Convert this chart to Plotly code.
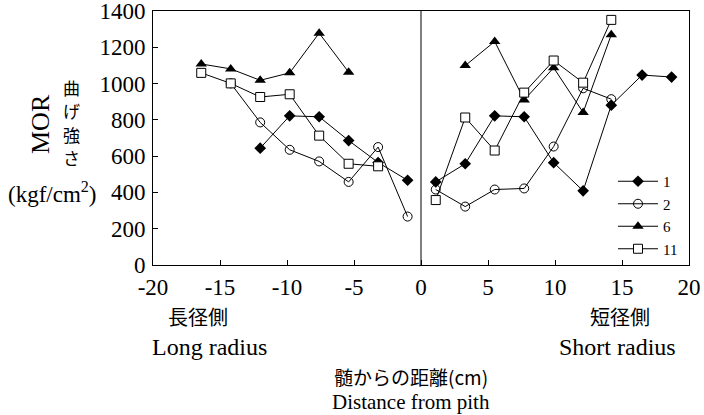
import plotly.graph_objects as go

# Distance from pith (cm): negative = long radius side, positive = short radius side
x1 = [-12.0, -9.8, -7.6, -5.4, -3.2, -1.0, 1.1, 3.3, 5.5, 7.7, 9.9, 12.1, 14.2, 16.5, 18.7]
y1 = [644, 822, 817, 686, 565, 467, 458, 558, 822, 817, 564, 409, 881, 1047, 1036]

x2 = [-14.2, -12.0, -9.8, -7.6, -5.4, -3.2, -1.0, 1.1, 3.3, 5.5, 7.7, 9.9, 12.1, 14.2]
y2 = [1001, 786, 635, 571, 458, 650, 267, 416, 322, 416, 422, 653, 974, 914]

x6 = [-16.4, -14.2, -12.0, -9.8, -7.6, -5.4, 3.3, 5.5, 7.7, 9.9, 12.1, 14.2]
y6 = [1108, 1081, 1018, 1059, 1278, 1063, 1099, 1232, 910, 1087, 841, 1269]

x11 = [-16.4, -14.2, -12.0, -9.8, -7.6, -5.4, -3.2, 1.1, 3.3, 5.5, 7.7, 9.9, 12.1, 14.2]
y11 = [1059, 1001, 926, 941, 713, 558, 544, 358, 813, 631, 950, 1127, 1005, 1351]

x_ticks = [-20, -15, -10, -5, 0, 5, 10, 15, 20]
y_ticks = [0, 200, 400, 600, 800, 1000, 1200, 1400]

SERIF = "Liberation Serif"
JP = "Noto Sans CJK JP"


def split(xs, ys):
    # break the line at the pith (x=0)
    ox, oy = [], []
    prev = None
    for a, b in zip(xs, ys):
        if prev is not None and prev < 0 < a:
            ox.append(None)
            oy.append(None)
        ox.append(a)
        oy.append(b)
        prev = a
    return ox, oy


fig = go.Figure()
series = [
    ("1", x1, y1, dict(symbol="diamond", size=9, color="black")),
    ("2", x2, y2, dict(symbol="circle-open", size=9, color="black", line=dict(width=1, color="black"))),
    ("6", x6, y6, dict(symbol="triangle-up", size=10, color="black")),
    ("11", x11, y11, dict(symbol="square", size=9, color="white", line=dict(width=1, color="black"))),
]
for name, xs, ys, mk in series:
    sx, sy = split(xs, ys)
    fig.add_trace(go.Scatter(x=sx, y=sy, name=name, mode="lines+markers",
                             line=dict(color="black", width=1), marker=mk,
                             connectgaps=False))

fig.add_shape(type="line", x0=0, x1=0, y0=0, y1=1400, xref="x", yref="y",
              line=dict(color="black", width=1))

fig.update_xaxes(range=[-20, 20], tickvals=x_ticks, ticktext=[str(t) for t in x_ticks],
                 ticks="inside", ticklen=5, tickcolor="black", showline=True, linecolor="black",
                 linewidth=1, mirror=True, showgrid=False, zeroline=False, automargin=False,
                 ticklabeloverflow="allow", ticklabelstandoff=1,
                 tickfont=dict(family=SERIF, size=23, color="black"))
fig.update_yaxes(range=[0, 1400], tickvals=y_ticks, ticktext=[str(t) for t in y_ticks],
                 ticks="inside", ticklen=5, tickcolor="black", showline=True, linecolor="black",
                 linewidth=1, mirror=True, showgrid=False, zeroline=False, automargin=False,
                 ticklabeloverflow="allow", ticklabelstandoff=2,
                 tickfont=dict(family=SERIF, size=23, color="black"))

ann = [
    dict(text="MOR", x=40, y=124, textangle=-90, font=dict(family=SERIF, size=26)),
    dict(text="曲", x=71, y=87, font=dict(family=JP, size=17)),
    dict(text="げ", x=71, y=111, font=dict(family=JP, size=17)),
    dict(text="強", x=71, y=134, font=dict(family=JP, size=17)),
    dict(text="さ", x=71, y=157, font=dict(family=JP, size=17)),
    dict(text="(kgf/cm<sup>2</sup>)", x=52, y=192, font=dict(family=SERIF, size=23)),
    dict(text="長径側", x=198, y=316, font=dict(family=JP, size=20)),
    dict(text="Long radius", x=209, y=347, font=dict(family=SERIF, size=24)),
    dict(text="短径側", x=620, y=316, font=dict(family=JP, size=20)),
    dict(text="Short radius", x=617, y=347, font=dict(family=SERIF, size=24)),
    dict(text="髄からの距離(cm)", x=411, y=376, font=dict(family=JP, size=19)),
    dict(text="Distance from pith", x=411, y=402, font=dict(family=SERIF, size=21)),
]

W, H = 704, 415
L, R, T, B = 153, 15, 11, 150
pw, ph = W - L - R, H - T - B
for a in ann:
    fig.add_annotation(text=a["text"], x=(a["x"] - L) / pw, y=1 - (a["y"] - T) / ph,
                       xref="paper", yref="paper",
                       showarrow=False, xanchor="center", yanchor="middle", textangle=a.get("textangle", 0),
                       font=dict(color="black", **a["font"]))

fig.update_layout(
    width=W, height=H, margin=dict(l=L, r=R, t=T, b=B, autoexpand=False),
    paper_bgcolor="white", plot_bgcolor="white",
    showlegend=True,
    legend=dict(x=(613 - L) / pw, y=1 - (165 - T) / ph, xanchor="left", yanchor="top",
                bgcolor="rgba(0,0,0,0)",
                font=dict(family=SERIF, size=15, color="black"), tracegroupgap=0,
                itemwidth=40),
    font=dict(family=SERIF, color="black"),
)

fig.write_html("out.html")
